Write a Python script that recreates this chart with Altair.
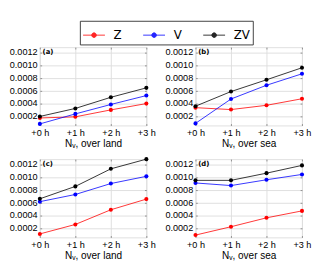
import altair as alt
import pandas as pd

series = ["Z", "V", "ZV"]
colors = ["#ff0000", "#0000ff", "#000000"]
hours = [0, 1, 2, 3]
tick_labels = ["+0 h", "+1 h", "+2 h", "+3 h"]
panel_labels = ["(a)", "(b)", "(c)", "(d)"]
x_titles = ["Nᵥ, over land", "Nᵥ, over sea", "Nᵥ, over land", "Nᵥ, over sea"]

# values per panel, per series (Z, V, ZV)
a_Z = [0.000168, 0.000186, 0.000295, 0.000394]
a_V = [0.000075, 0.000232, 0.000380, 0.000520]
a_ZV = [0.000192, 0.000318, 0.000493, 0.000641]

b_Z = [0.000330, 0.000300, 0.000367, 0.000470]
b_V = [0.000083, 0.000466, 0.000682, 0.000862]
b_ZV = [0.000353, 0.000583, 0.000768, 0.000957]

c_Z = [0.000105, 0.000254, 0.000485, 0.000652]
c_V = [0.000612, 0.000725, 0.000897, 0.001010]
c_ZV = [0.000657, 0.000852, 0.001128, 0.001280]

d_Z = [0.000087, 0.000218, 0.000358, 0.000467]
d_V = [0.000906, 0.000865, 0.000956, 0.001040]
d_ZV = [0.000947, 0.000947, 0.001060, 0.001182]

panels = [(a_Z, a_V, a_ZV), (b_Z, b_V, b_ZV), (c_Z, c_V, c_ZV), (d_Z, d_V, d_ZV)]

y_domain = [0.00005, 0.00128]
y_ticks = [0.0002, 0.0004, 0.0006, 0.0008, 0.0010, 0.0012]

label_expr = "[" + ",".join("'%s'" % t for t in tick_labels) + "][datum.value]"

W, H = 117, 86
FONT = "DejaVu Sans"

legend = alt.Legend(
    title=None,
    orient="none",
    direction="horizontal",
    legendX=44,
    legendY=-29,
    symbolType="M-1,0L1,0M-0.21,0A0.21,0.21,0,1,1,0.21,0A0.21,0.21,0,1,1,-0.21,0Z",
    symbolSize=576,
    symbolStrokeWidth=1,
    labelFontSize=13,
    labelFont=FONT,
    labelColor="#000000",
    labelOffset=9,
    columnPadding=21,
    padding=3,
    strokeColor="#333333",
    fillColor="#ffffff",
)


def panel(idx):
    vals = panels[idx]
    rows = []
    for s, v in zip(series, vals):
        for h, val in zip(hours, v):
            rows.append({"h": h, "v": val, "series": s})
    df = pd.DataFrame(rows)

    xscale = alt.Scale(domain=[0, 3], nice=False)
    yscale = alt.Scale(domain=y_domain, nice=False, zero=False)
    cscale = alt.Scale(domain=series, range=colors)

    x_main = alt.X("h:Q", scale=xscale, axis=alt.Axis(
        values=hours, labelExpr=label_expr, title=x_titles[idx],
        orient="bottom", offset=-2, tickSize=2, domain=False,
        labelFlush=False, labelPadding=3, titlePadding=1,
        titleFontWeight="normal"))
    y_main = alt.Y("v:Q", scale=yscale, axis=alt.Axis(
        values=y_ticks, format=".4f", title=None, orient="left",
        offset=-2, tickSize=2, domain=False, labelPadding=3,
        labelFlush=False))

    lines = alt.Chart(df).mark_line(strokeWidth=1, opacity=0.85).encode(
        x=x_main, y=y_main,
        color=alt.Color("series:N", scale=cscale, legend=legend),
    )
    pts = alt.Chart(df).mark_circle(size=20, opacity=1).encode(
        x=alt.X("h:Q", scale=xscale, axis=alt.Axis(
            values=hours, labels=False, title=None, orient="top",
            offset=-2, tickSize=2, domain=False)),
        y=alt.Y("v:Q", scale=yscale, axis=alt.Axis(
            values=y_ticks, labels=False, title=None, orient="right",
            offset=-2, tickSize=2, domain=False)),
        color=alt.Color("series:N", scale=cscale, legend=legend),
    )
    txt = alt.Chart(pd.DataFrame({"t": [panel_labels[idx]]})).mark_text(
        align="left", baseline="middle", fontWeight="bold", fontSize=7.5,
        font=FONT, color="#000000"
    ).encode(text="t:N", x=alt.value(3), y=alt.value(6))

    return alt.layer(lines, pts, txt).resolve_axis(
        x="independent", y="independent"
    ).properties(width=W, height=H)


row1 = alt.hconcat(panel(0), panel(1), spacing=8)
row2 = alt.hconcat(panel(2), panel(3), spacing=8)
chart = alt.vconcat(row1, row2, spacing=8).configure_view(
    stroke="#222222", strokeWidth=1
).configure_axis(
    labelFont=FONT, labelFontSize=7.5, labelColor="#000000",
    titleFont=FONT, titleFontSize=7.5, titleFontWeight="normal",
    titleColor="#000000", tickColor="#888888", grid=False,
).configure(padding=0)

chart.save("out.html", embed_options={"renderer": "svg", "actions": False})
